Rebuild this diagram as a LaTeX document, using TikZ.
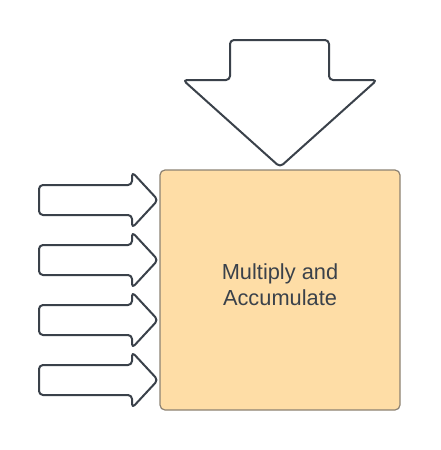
\documentclass[tikz,border=0pt]{standalone}
\usepackage{fontspec}
\setmainfont{Liberation Sans}
\definecolor{ink}{RGB}{58,65,74}
\definecolor{boxfill}{RGB}{254,221,166}
\definecolor{boxline}{RGB}{140,130,115}
\tikzset{
  bigarrow/.style={draw=ink, line width=2pt, fill=white, rounded corners=4pt, line join=round},
  macbox/.style={draw=boxline, line width=1.2pt, fill=boxfill, rounded corners=5pt, minimum width=240pt, minimum height=240pt, inner sep=0pt},
  mactext/.style={text=ink, font=\fontsize{21.8}{26}\selectfont, align=center, inner sep=0pt}
}
\begin{document}
\begin{tikzpicture}[x=1pt,y=-1pt]
\useasboundingbox (0,0) rectangle (440,450);
\node[macbox] (mac) at (280,290) {};
\node[mactext] (label) at (280,285) {Multiply and\\Accumulate};
\draw[bigarrow] (230,40) -- (329,40) -- (329,80) -- (377,80) -- (280,167) -- (183,80) -- (230,80) -- cycle;
\foreach \c in {200,260,320,380}{
  \draw[bigarrow] (39,\c-15) -- (132,\c-15) -- (132,\c-28) -- (158,\c) -- (132,\c+28) -- (132,\c+15) -- (39,\c+15) -- cycle;
}
\end{tikzpicture}
\end{document}
